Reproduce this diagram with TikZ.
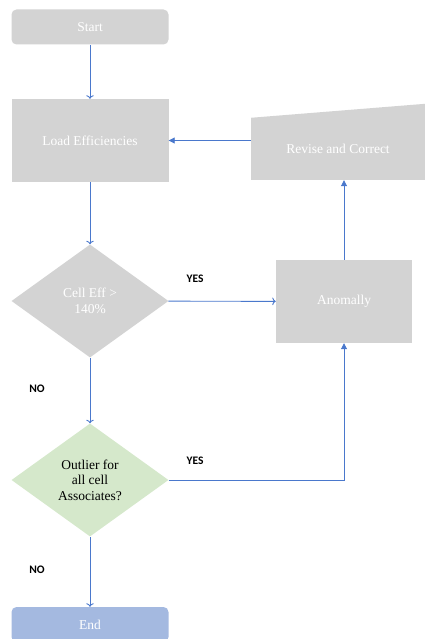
\documentclass[tikz,border=0pt]{standalone}
\usepackage{fontspec}
\setmainfont{Liberation Serif}
\newfontfamily\yesnofont{Carlito}
\usepackage{xcolor}
\usepackage{tikz}
\usetikzlibrary{arrows.meta,shapes.geometric,positioning}
\definecolor{boxgrey}{HTML}{D3D3D3}
\definecolor{linkblue}{HTML}{4A78CC}
\definecolor{endblue}{HTML}{A4B9E0}
\definecolor{outgreen}{HTML}{D5E8CB}

\begin{document}
\begin{tikzpicture}[x=1pt, y=1pt,
    txt/.style={font=\fontsize{13.5}{15.5}\selectfont, align=center},
    term/.style={rectangle, rounded corners=5pt, minimum width=157pt, minimum height=35pt, inner sep=0pt, text=white, txt},
    box/.style={rectangle, fill=boxgrey, minimum width=157pt, minimum height=83pt, inner sep=0pt, text=white, txt},
    choice/.style={diamond, minimum width=157pt, minimum height=113pt, inner sep=0pt, txt},
    link/.style={draw=linkblue, line width=0.9pt, -{Triangle[length=6pt, width=6pt]}},
    yesno/.style={font=\yesnofont\bfseries\fontsize{11.5}{13}\selectfont}]
    \centering
    \useasboundingbox (0,0) rectangle (425,-639);
    \node(S) at (90,-27) [term, fill=boxgrey] {Start};
    \node(L) at (90,-140.5) [box] {Load Efficiencies}
      edge [link, <-] (S)
      ;
    \node(C) at (90,-301) [choice, fill=boxgrey, text=white] {Cell Eff >\\140\%}
      edge [link, <-] (L)
      ;
    \node(A) at (344,-301.5) [box, minimum width=136pt] {Anomally}
      edge [link, <-] (C)
      ;
    \node(R) at (338,-149) [box, minimum width=174pt, minimum height=62pt, text depth=0pt] {Revise and Correct};
    \fill [boxgrey] (R.north west) -- (R.north east) -- ++(0,14) -- cycle;
    \node(O) at (90,-480) [choice, fill=outgreen, text=black] {Outlier for\\all cell\\Associates?}
      edge [link, <-] (C)
      ;
    \node(E) at (90,-624.5) [term, fill=endblue] {End}
      edge [link, <-] (O)
      ;
    \draw [link] (A) -- (A |- R.south);
    \draw [link] (R.west |- L) -- (L);
    \draw [link] (O.east) -| (A.south);
    \node(Y1) at (195,-279) [yesno] {YES};
    \node(N1) at (37,-389) [yesno] {NO};
    \node(Y2) at (195,-461) [yesno] {YES};
    \node(N2) at (37,-570) [yesno] {NO};
  \end{tikzpicture}
\end{document}
